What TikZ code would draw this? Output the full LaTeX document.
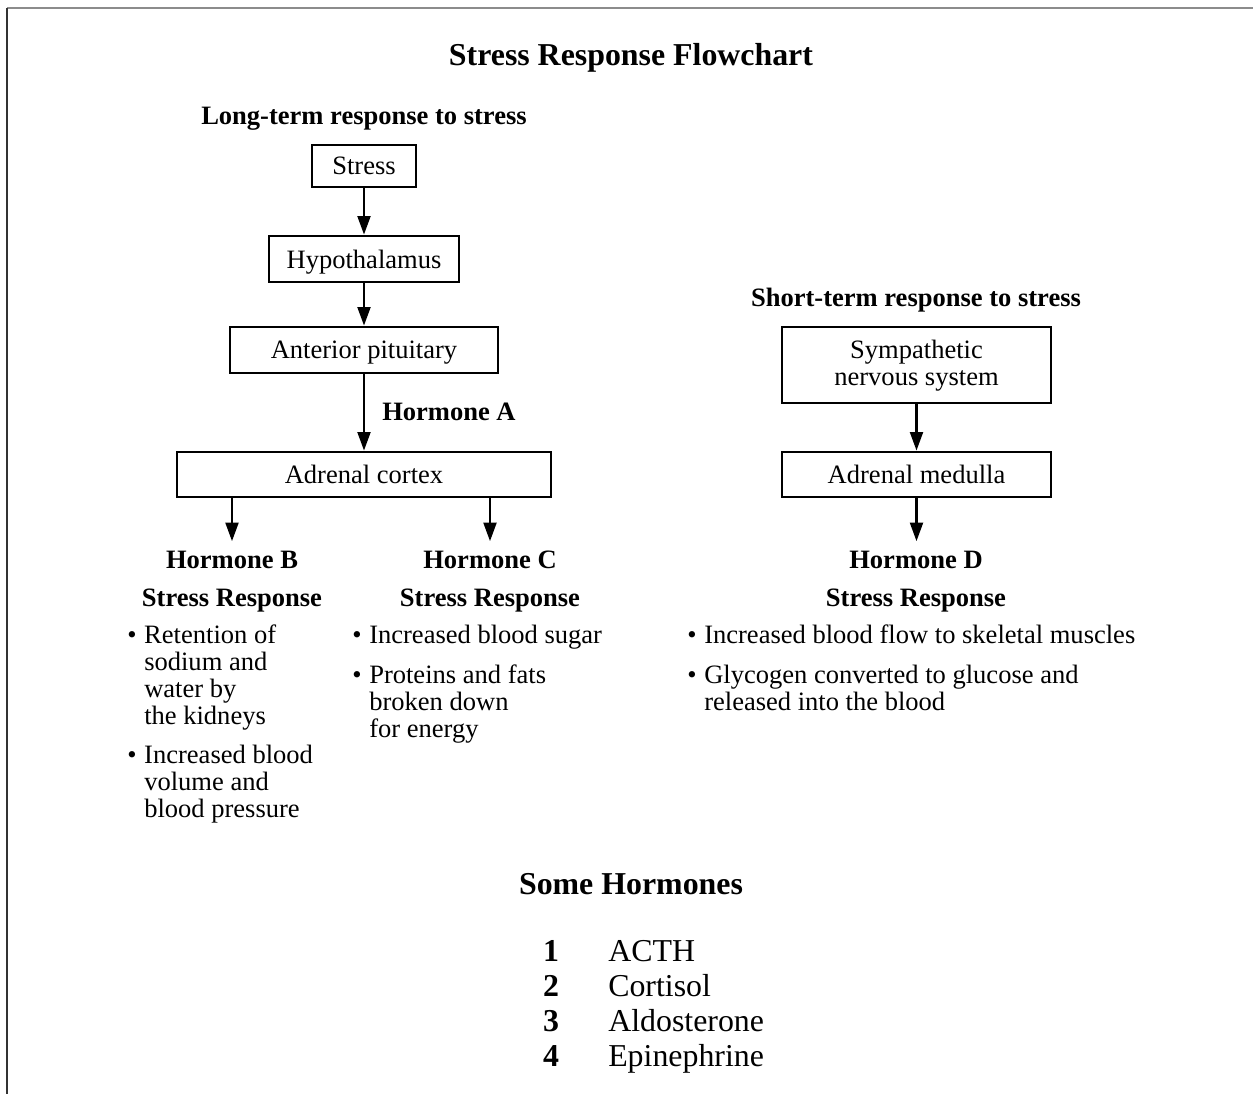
\documentclass[tikz,border=0pt]{standalone}
\usepackage{fontspec}
\setmainfont{Liberation Serif}
\usetikzlibrary{arrows.meta}
\newcommand\bodyfont{\fontsize{19.9}{20.3}\selectfont}
\newcommand\bigfont{\fontsize{23.9}{26}\selectfont}
\newcommand\bul{\makebox[12.75pt][l]{•}}
\tikzset{
  box/.style={draw, line width=0.9pt, inner sep=0pt, font=\bodyfont, align=center, text depth=0pt},
  lbl/.style={font=\bodyfont\bfseries, anchor=base, inner sep=0pt},
  blist/.style={font=\bodyfont, anchor=base west, inner sep=0pt},
  flow/.style={line width=2.2pt, -{Triangle[length=14pt,width=9.5pt]}, shorten >=0.5pt},
}
\begin{document}
\begin{tikzpicture}[x=0.75pt,y=-0.75pt]
\useasboundingbox (0,0) rectangle (1253,1094);
% frame
\coordinate (fa) at (7,8);
\coordinate (fb) at (1253,8);
\coordinate (fc) at (7,1094);
\draw[line width=1.6pt, black!45] (fa) -- (fb);
\draw[line width=1.6pt, black!80] (fa) -- (fc);

\node[font=\bigfont\bfseries, anchor=base, inner sep=0pt] (title) at (631,66) {Stress Response Flowchart};

% long-term
\node[lbl] (lt) at (364,125) {Long-term response to stress};
\node[box, minimum width=78pt, minimum height=31.5pt] (stress) at (364,166) {Stress};
\node[box, minimum width=142.5pt, minimum height=34.5pt] (hypo) at (364,259) {Hypothalamus};
\node[box, minimum width=201pt, minimum height=34.5pt] (ant) at (364,350) {Anterior pituitary};
\node[box, minimum width=280.5pt, minimum height=33.75pt] (cortex) at (364,474.5) {Adrenal cortex};
\draw[flow] (stress) -- (hypo);
\draw[flow] (hypo) -- (ant);
\draw[flow] (ant) -- (cortex);
\node[font=\bodyfont\bfseries, anchor=base west, inner sep=0pt] (ha) at (382,421) {Hormone A};

\coordinate (cb) at (232,497);
\coordinate (cc) at (490,497);
\coordinate (hbt) at (232,542);
\coordinate (hct) at (490,542);
\draw[flow] (cb) -- (hbt);
\draw[flow] (cc) -- (hct);

\node[lbl] (hb) at (232,568) {Hormone B};
\node[lbl] (srb) at (232,606) {Stress Response};
\node[lbl] (hc) at (490,568) {Hormone C};
\node[lbl] (src) at (490,606) {Stress Response};

\node[blist] (b1) at (127,643) {\begin{tabular}[t]{@{}l@{}l@{}}\bul&Retention of\\&sodium and\\&water by\\&the kidneys\end{tabular}};
\node[blist] (b2) at (127,763) {\begin{tabular}[t]{@{}l@{}l@{}}\bul&Increased blood\\&volume and\\&blood pressure\end{tabular}};
\node[blist] (c1) at (352,643) {\begin{tabular}[t]{@{}l@{}l@{}}\bul&Increased blood sugar\end{tabular}};
\node[blist] (c2) at (352,683) {\begin{tabular}[t]{@{}l@{}l@{}}\bul&Proteins and fats\\&broken down\\&for energy\end{tabular}};

% short-term
\node[lbl] (st) at (916,307) {Short-term response to stress};
\node[draw, line width=0.9pt, minimum width=201.75pt, minimum height=57pt] (symp) at (916.5,365) {};
\node[font=\bodyfont, align=center, anchor=base, inner sep=0pt] (symptxt) at (916.5,386) {Sympathetic\\nervous system};
\node[box, minimum width=201.75pt, minimum height=33.75pt] (med) at (916.5,474.5) {Adrenal medulla};
\draw[flow] (symp) -- (med);
\coordinate (hdt) at (916.5,542);
\draw[flow] (med) -- (hdt);
\node[lbl] (hd) at (916,568) {Hormone D};
\node[lbl] (srd) at (916,606) {Stress Response};
\node[blist] (d1) at (687,643) {\begin{tabular}[t]{@{}l@{}l@{}}\bul&Increased blood flow to skeletal muscles\end{tabular}};
\node[blist] (d2) at (687,683) {\begin{tabular}[t]{@{}l@{}l@{}}\bul&Glycogen converted to glucose and\\&released into the blood\end{tabular}};

% some hormones
\node[font=\bigfont\bfseries, anchor=base, inner sep=0pt] (sh) at (631,894) {Some Hormones};
\node[font=\bigfont\bfseries, anchor=base, inner sep=0pt] (n1) at (551,961) {1};
\node[font=\bigfont\bfseries, anchor=base, inner sep=0pt] (n2) at (551,996) {2};
\node[font=\bigfont\bfseries, anchor=base, inner sep=0pt] (n3) at (551,1031) {3};
\node[font=\bigfont\bfseries, anchor=base, inner sep=0pt] (n4) at (551,1066) {4};
\node[font=\bigfont, anchor=base west, inner sep=0pt] (m1) at (608,961) {ACTH};
\node[font=\bigfont, anchor=base west, inner sep=0pt] (m2) at (608,996) {Cortisol};
\node[font=\bigfont, anchor=base west, inner sep=0pt] (m3) at (608,1031) {Aldosterone};
\node[font=\bigfont, anchor=base west, inner sep=0pt] (m4) at (608,1066) {Epinephrine};
\end{tikzpicture}
\end{document}
